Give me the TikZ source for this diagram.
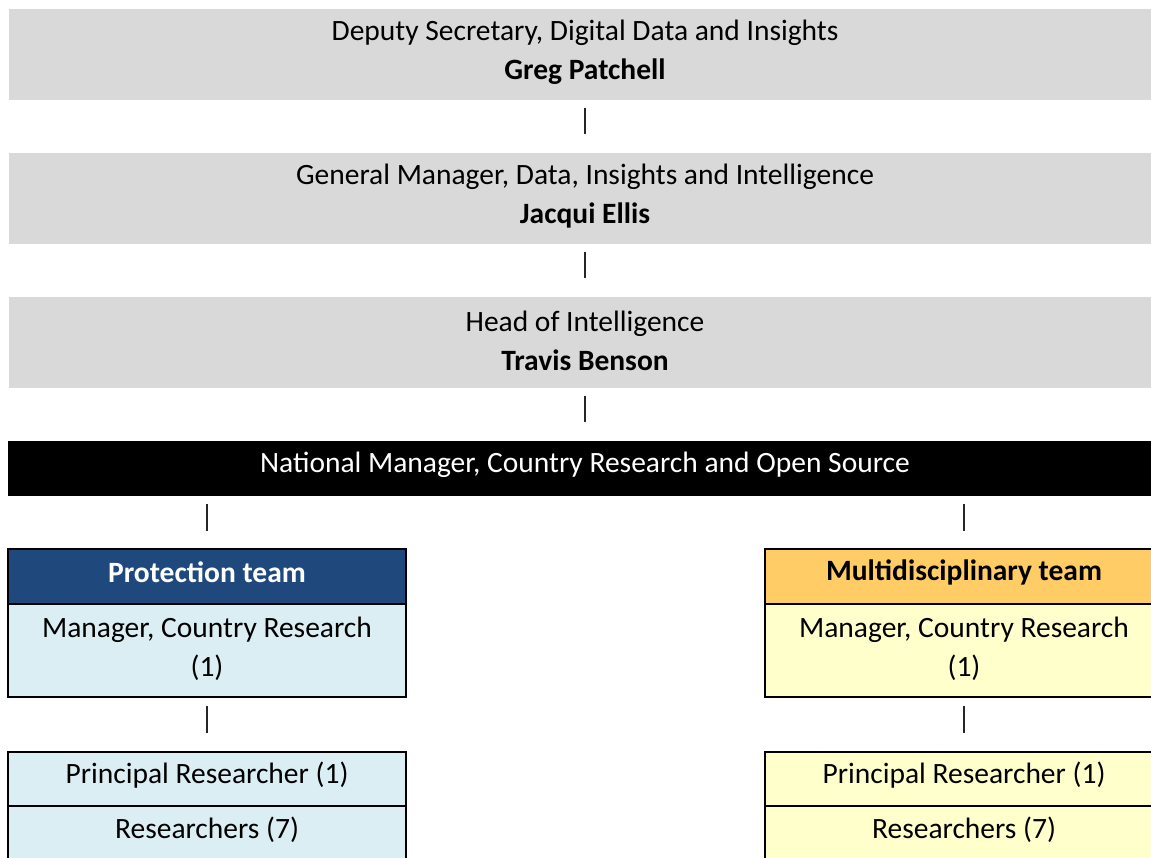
\documentclass[tikz,border=0pt]{standalone}
\usepackage{fontspec}
\setmainfont{Carlito}
\definecolor{greybg}{HTML}{D9D9D9}
\definecolor{navy}{HTML}{1F497D}
\definecolor{lightblue}{HTML}{DAEEF3}
\definecolor{orangehd}{HTML}{FFCC66}
\definecolor{lightyellow}{HTML}{FFFFCC}
\tikzset{
  txt/.style={font=\fontsize{29.5}{39}\selectfont, align=center, inner sep=0pt, outer sep=0pt},
  boxbase/.style={inner sep=0pt, outer sep=0pt},
  greybox/.style={boxbase, fill=greybg, minimum width=1152pt, minimum height=91pt},
  blackbox/.style={boxbase, fill=black, minimum width=1154pt, minimum height=55pt},
  teambox/.style={boxbase, draw=black, line width=2pt, minimum width=398pt},
  inner/.style={label={[txt, yshift=4pt]center:#1}},
  innertwo/.style={label={[txt, yshift=2pt]center:#1}},
  innerw/.style={label={[txt, text=white, yshift=4pt]center:#1}},
  bar/.style={line width=2pt, draw=black!85}
}
\begin{document}
\begin{tikzpicture}[x=1pt,y=-1pt]
\useasboundingbox (0,0) rectangle (1151,857);
\clip (0,0) rectangle (1151,857);
\fill[white] (0,0) rectangle (1151,857);
% grey boxes
\node[greybox, innertwo={Deputy Secretary, Digital Data and Insights\\\textbf{Greg Patchell}}] (g1) at (585,54.5) {};
\node[greybox, innertwo={General Manager, Data, Insights and Intelligence\\\textbf{Jacqui Ellis}}] (g2) at (585,198.5) {};
\node[greybox, innertwo={Head of Intelligence\\\textbf{Travis Benson}}] (g3) at (585,342.5) {};
\node[blackbox, innerw={National Manager, Country Research and Open Source}] (nm) at (585,468.5) {};
% protection team
\node[teambox, fill=navy, minimum height=55pt, innerw={\textbf{Protection team}}] (pt) at (207,576.5) {};
\node[teambox, fill=lightblue, minimum height=93pt, innertwo={Manager, Country Research\\(1)}] (pm) at (207,650.5) {};
\node[teambox, fill=lightblue, minimum height=54pt, inner={Principal Researcher (1)}] (pp) at (207,779) {};
\node[teambox, fill=lightblue, minimum height=56pt, inner={Researchers (7)}] (pr) at (207,834) {};
% multidisciplinary team
\node[teambox, fill=orangehd, minimum height=55pt, inner={\textbf{Multidisciplinary team}}] (mt) at (964,576.5) {};
\node[teambox, fill=lightyellow, minimum height=93pt, innertwo={Manager, Country Research\\(1)}] (mm) at (964,650.5) {};
\node[teambox, fill=lightyellow, minimum height=54pt, inner={Principal Researcher (1)}] (mp) at (964,779) {};
\node[teambox, fill=lightyellow, minimum height=56pt, inner={Researchers (7)}] (mr) at (964,834) {};
% connectors
\draw[bar, shorten <=8pt, shorten >=19pt] (g1.south) -- (g2.north);
\draw[bar, shorten <=8pt, shorten >=19pt] (g2.south) -- (g3.north);
\draw[bar, shorten <=8pt, shorten >=19pt] (g3.south) -- (nm.north);
\draw[bar, shorten <=8pt, shorten >=18pt] (pt.north |- nm.south) -- (pt.north);
\draw[bar, shorten <=8pt, shorten >=18pt] (mt.north |- nm.south) -- (mt.north);
\draw[bar, shorten <=9pt, shorten >=19pt] (pm.south) -- (pp.north);
\draw[bar, shorten <=9pt, shorten >=19pt] (mm.south) -- (mp.north);
\end{tikzpicture}
\end{document}
